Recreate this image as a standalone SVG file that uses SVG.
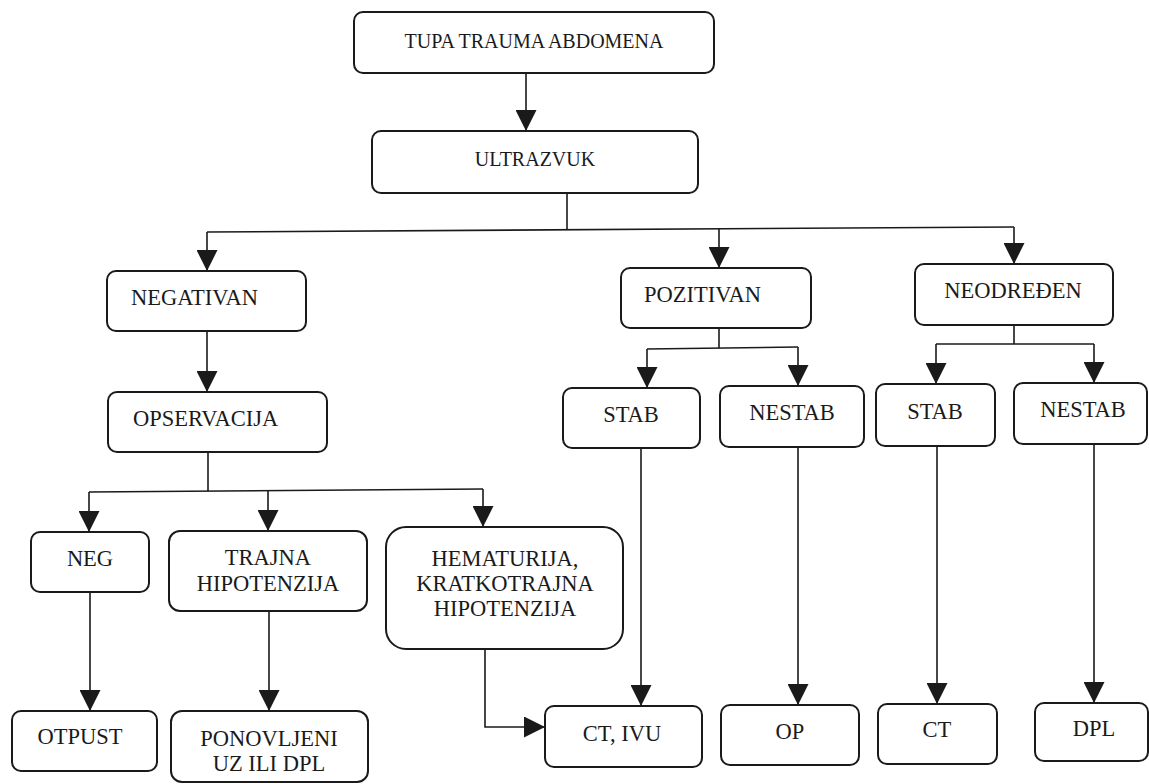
<svg xmlns="http://www.w3.org/2000/svg" width="1149" height="784" viewBox="0 0 1149 784">
<style>
.box{fill:#fff;stroke:#1a1a1a;stroke-width:2}
text{font-family:"Liberation Serif","Times New Roman",serif;font-size:22.5px;fill:#1a1a1a;text-anchor:middle}
.tl{text-anchor:start}
.c{fill:none;stroke:#1a1a1a;stroke-width:1.6}
</style>
<defs>
<marker id="ah" markerUnits="userSpaceOnUse" markerWidth="21" markerHeight="21" refX="21" refY="10.5" orient="auto" viewBox="0 0 21 21">
<path d="M0,0 L21,10.5 L0,21 z" fill="#1a1a1a"/>
</marker>
</defs>
<rect width="1149" height="784" fill="#fff"/>
<g id="connectors">
<path class="c" d="M526,73 V131" marker-end="url(#ah)"/>
<path class="c" d="M567,193 V230"/>
<path class="c" d="M207,232 L1014,227"/>
<path class="c" d="M207,232 V271" marker-end="url(#ah)"/>
<path class="c" d="M719,229 V268" marker-end="url(#ah)"/>
<path class="c" d="M1014,227 V264" marker-end="url(#ah)"/>
<path class="c" d="M207,331 V392" marker-end="url(#ah)"/>
<path class="c" d="M208,452 V491"/>
<path class="c" d="M89,492 L483,489"/>
<path class="c" d="M89,492 V532" marker-end="url(#ah)"/>
<path class="c" d="M268,491 V531" marker-end="url(#ah)"/>
<path class="c" d="M483,489 V527" marker-end="url(#ah)"/>
<path class="c" d="M90,592 V711" marker-end="url(#ah)"/>
<path class="c" d="M269,611 V711" marker-end="url(#ah)"/>
<path class="c" d="M485,649 V727 H545" marker-end="url(#ah)"/>
<path class="c" d="M719,328 V348"/>
<path class="c" d="M647,349 L798,347"/>
<path class="c" d="M647,349 V388" marker-end="url(#ah)"/>
<path class="c" d="M798,347 V386" marker-end="url(#ah)"/>
<path class="c" d="M1014,325 V344"/>
<path class="c" d="M936,344 H1094"/>
<path class="c" d="M936,344 V384" marker-end="url(#ah)"/>
<path class="c" d="M1094,344 V383" marker-end="url(#ah)"/>
<path class="c" d="M641,448 V706" marker-end="url(#ah)"/>
<path class="c" d="M798,447 V705" marker-end="url(#ah)"/>
<path class="c" d="M937,446 V704" marker-end="url(#ah)"/>
<path class="c" d="M1094,444 V703" marker-end="url(#ah)"/>
</g>
<g id="tupa"><rect class="box" x="354" y="12" width="360" height="61" rx="9"/><text x="534" y="48" style="font-size:20px">TUPA TRAUMA ABDOMENA</text></g>
<g id="ultrazvuk"><rect class="box" x="372" y="131" width="326" height="62" rx="9"/><text x="535" y="166" style="font-size:20px">ULTRAZVUK</text></g>
<g id="negativan"><rect class="box" x="107" y="271" width="199" height="60" rx="9"/><text class="tl" x="131" y="305">NEGATIVAN</text></g>
<g id="opservacija"><rect class="box" x="108" y="392" width="219" height="60" rx="9"/><text class="tl" x="133" y="426">OPSERVACIJA</text></g>
<g id="pozitivan"><rect class="box" x="621" y="268" width="190" height="60" rx="9"/><text class="tl" x="644" y="302">POZITIVAN</text></g>
<g id="neodreden"><rect class="box" x="915" y="264" width="198" height="61" rx="9"/><text x="1013" y="298">NEODREĐEN</text></g>
<g id="stab1"><rect class="box" x="563" y="388" width="137" height="60" rx="9"/><text x="631" y="422">STAB</text></g>
<g id="nestab1"><rect class="box" x="720" y="386" width="144" height="61" rx="9"/><text x="792" y="420">NESTAB</text></g>
<g id="stab2"><rect class="box" x="876" y="384" width="119" height="62" rx="9"/><text x="935" y="419">STAB</text></g>
<g id="nestab2"><rect class="box" x="1014" y="383" width="133" height="61" rx="9"/><text x="1083" y="417">NESTAB</text></g>
<g id="neg"><rect class="box" x="31" y="532" width="118" height="60" rx="9"/><text x="90" y="566">NEG</text></g>
<g id="trajna"><rect class="box" x="169" y="531" width="198" height="80" rx="11"/><text x="268" y="565">TRAJNA</text><text x="268" y="591">HIPOTENZIJA</text></g>
<g id="hematurija"><rect class="box" x="386" y="527" width="237" height="122" rx="20"/><text x="505" y="566">HEMATURIJA,</text><text x="505" y="591">KRATKOTRAJNA</text><text x="505" y="616">HIPOTENZIJA</text></g>
<g id="otpust"><rect class="box" x="12" y="711" width="145" height="60" rx="9"/><text x="80" y="744">OTPUST</text></g>
<g id="ponovljeni"><rect class="box" x="171" y="711" width="197" height="71" rx="11"/><text x="269" y="746">PONOVLJENI</text><text x="269" y="771">UZ ILI DPL</text></g>
<g id="ctivu"><rect class="box" x="545" y="706" width="157" height="61" rx="9"/><text x="622" y="741">CT, IVU</text></g>
<g id="op"><rect class="box" x="721" y="705" width="138" height="60" rx="9"/><text x="790" y="739">OP</text></g>
<g id="ct"><rect class="box" x="878" y="704" width="119" height="60" rx="9"/><text x="937" y="737">CT</text></g>
<g id="dpl"><rect class="box" x="1035" y="703" width="113" height="58" rx="9"/><text x="1094" y="736">DPL</text></g>
</svg>
